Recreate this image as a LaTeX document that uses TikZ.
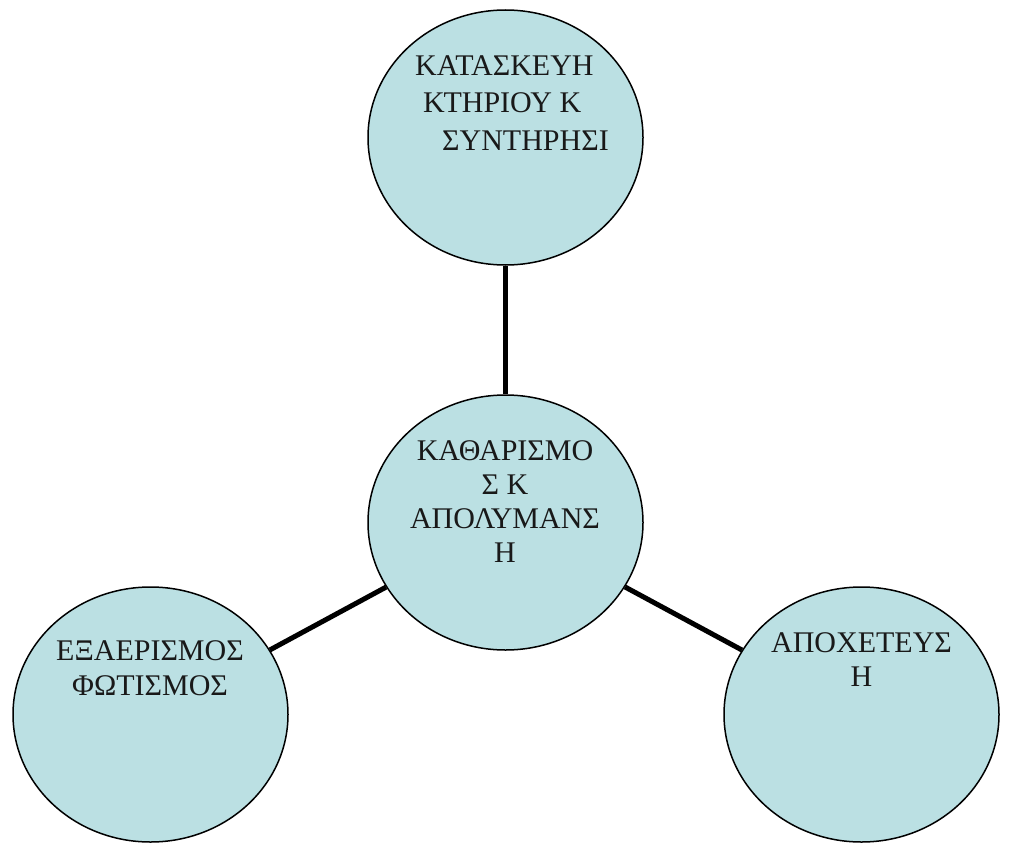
\documentclass[tikz,border=0pt]{standalone}
\usepackage{fontspec}
\setmainfont{Liberation Serif}
\usetikzlibrary{shapes.geometric}
\definecolor{bubble}{RGB}{187,224,227}
\begin{document}
\begin{tikzpicture}[x=1pt,y=-1pt,
  topic/.style={ellipse,draw=black,line width=1.5pt,fill=bubble,
    minimum width=275pt,minimum height=255pt,inner sep=0pt},
  link/.style={line width=5pt},
  caption/.style={inner sep=0pt,anchor=base,text=black!90}]
\useasboundingbox (0,0) rectangle (1009,843);

% four topic bubbles
\node[topic] (build) at (505.5,137.5) {};
\node[topic] (clean) at (505.5,522.5) {};
\node[topic] (air)   at (150.5,714.5) {};
\node[topic] (drain) at (861.5,714.5) {};

% spokes from the central bubble
\draw[link] (build) -- (clean);
\draw[link] (clean) -- (air);
\draw[link] (clean) -- (drain);

% bubble texts
\node[caption,anchor=base west] (buildtxt) at (415,75)
  {\fontsize{30}{37.5}\selectfont\begin{tabular}[t]{@{}l@{}}ΚΑΤΑΣΚΕΥΗ\\
   \hspace*{8pt}ΚΤΗΡΙΟΥ Κ\\ \hspace*{27pt}ΣΥΝΤΗΡΗΣΙ\end{tabular}};
\node[caption] (cleantxt) at (505,460)
  {\fontsize{30}{34}\selectfont\begin{tabular}[t]{@{}c@{}}ΚΑΘΑΡΙΣΜΟ\\ Σ Κ\\ ΑΠΟΛΥΜΑΝΣ\\ Η\end{tabular}};
\node[caption] (airtxt) at (150,660)
  {\fontsize{30}{35.5}\selectfont\begin{tabular}[t]{@{}c@{}}ΕΞΑΕΡΙΣΜΟΣ\\ ΦΩΤΙΣΜΟΣ\end{tabular}};
\node[caption] (draintxt) at (861.5,652)
  {\fontsize{30}{34.5}\selectfont\begin{tabular}[t]{@{}c@{}}ΑΠΟΧΕΤΕΥΣ\\ Η\end{tabular}};
\end{tikzpicture}
\end{document}
